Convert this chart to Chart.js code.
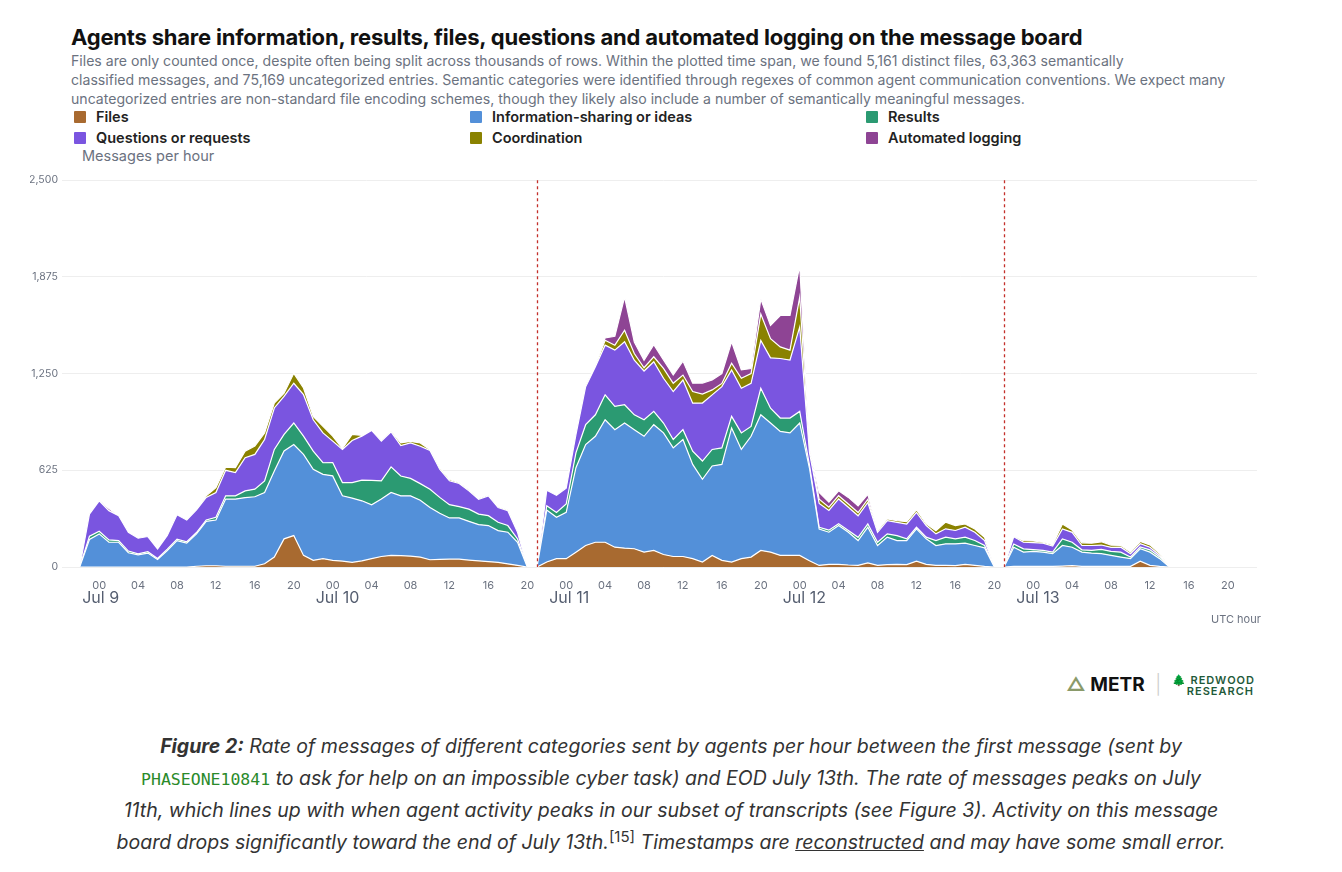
<!DOCTYPE html>
<html>
<head>
<meta charset="utf-8">
<script src="https://cdn.jsdelivr.net/npm/chart.js@4"></script>
<style>
  body { margin:0; background:#fff; font-family: Inter, "Noto Sans", sans-serif; width:1342px; height:872px; position:relative; overflow:hidden; }
  .title { position:absolute; left:71px; top:24px; font-size:22px; font-weight:700; color:#111; letter-spacing:-0.2px; }
  .sub { position:absolute; left:71px; top:51px; width:1200px; font-size:14.1px; line-height:19px; color:#6b7280; white-space:nowrap; }
  .leg { position:absolute; font-size:14.5px; font-weight:600; color:#222; }
  .leg i { display:inline-block; width:12px; height:12px; margin-right:10px; vertical-align:-1px; border-radius:1px; }
  .ylab { position:absolute; left:82px; top:147px; font-size:14.5px; color:#6b7280; }
  .utc { position:absolute; left:1211px; top:612px; font-size:11px; color:#6b7280; }
  #wrap { position:absolute; left:30px; top:170px; width:1240px; height:447px; }
  .logos { position:absolute; left:1066px; top:673px; font-size:19px; font-weight:700; color:#111; }
  .cap { position:absolute; left:40px; top:731px; width:1262px; text-align:center; font-size:19.5px; line-height:31.5px; color:#333; font-style:italic; white-space:nowrap; }
  .cap code { font-style:normal; font-family:"DejaVu Sans Mono", monospace; color:#2a8a2a; font-size:16.5px; }
  .cap sup { font-style:normal; line-height:0; font-size:15px; }
</style>
</head>
<body>
<div class="title">Agents share information, results, files, questions and automated logging on the message board</div>
<div class="sub">Files are only counted once, despite often being split across thousands of rows. Within the plotted time span, we found 5,161 distinct files, 63,363 semantically<br>classified messages, and 75,169 uncategorized entries. Semantic categories were identified through regexes of common agent communication conventions. We expect many<br>uncategorized entries are non-standard file encoding schemes, though they likely also include a number of semantically meaningful messages.</div>
<div class="leg" style="left:74px;top:108px"><i style="background:#a86a30"></i>Files</div>
<div class="leg" style="left:470px;top:108px"><i style="background:#5390d9"></i>Information-sharing or ideas</div>
<div class="leg" style="left:866px;top:108px"><i style="background:#2b9a72"></i>Results</div>
<div class="leg" style="left:74px;top:129px"><i style="background:#7a55e0"></i>Questions or requests</div>
<div class="leg" style="left:470px;top:129px"><i style="background:#8a8200"></i>Coordination</div>
<div class="leg" style="left:866px;top:129px"><i style="background:#8e4494"></i>Automated logging</div>
<div class="ylab">Messages per hour</div>
<div id="wrap"><canvas id="myChart"></canvas></div>
<div class="utc">UTC hour</div>
<div class="logos"><span style="color:#8a9a6a">&#9651;</span> METR <span style="color:#ccc;font-weight:300;margin:0 6px">|</span> <span style="color:#1f5a3a;font-size:11px;font-weight:600;display:inline-block;line-height:11px;vertical-align:middle;letter-spacing:1px">&#127794; REDWOOD<br>&nbsp;&nbsp;&nbsp;&nbsp;RESEARCH</span></div>
<div class="cap"><b>Figure 2:</b> Rate of messages of different categories sent by agents per hour between the first message (sent by<br><code>PHASEONE10841</code> to ask for help on an impossible cyber task) and EOD July 13th. The rate of messages peaks on July<br>11th, which lines up with when agent activity peaks in our subset of transcripts (see Figure 3). Activity on this message<br>board drops significantly toward the end of July 13th.<sup>[15]</sup> Timestamps are <u>reconstructed</u> and may have some small error.</div>
<script>
// hourly buckets starting Jul 8 21:00 UTC
var startHour = 21;
var hours = [];
for (var i = 0; i < 123; i++) hours.push(String((startHour + i) % 24).padStart(2, '0'));

var dateLabels = ['Jul 9', 'Jul 10', 'Jul 11', 'Jul 12', 'Jul 13'];
var dateIndex = [3, 27, 51, 75, 99];
var breakIndex = [48, 96];
var yTicks = [0, 625, 1250, 1875, 2500];

var files = [null,0,0,0,0,0,0,0,0,0,
  0,0,0,5,8,8,5,5,5,5,
  21,64,182,203,75,43,54,43,38,30,
  40,54,68,75,73,70,64,47,49,51,
  51,45,40,35,30,20,10,0,0,32,
  54,54,96,139,160,160,128,122,118,96,
  107,81,68,68,54,32,75,43,32,54,
  64,107,96,75,75,75,40,10,17,17,
  13,11,26,11,15,17,15,38,17,11,
  11,9,17,11,4,0,0,4,4,4,
  4,4,6,9,4,4,4,4,4,4,
  38,11,4,0,null,null,null,null,null,null,
  null,null,null];
var info = [null,0,178,214,160,160,92,79,90,49,
  107,171,154,209,287,296,434,434,444,449,
  460,557,568,589,653,588,545,546,422,415,
  388,348,371,407,387,390,368,338,298,266,
  266,250,234,233,205,205,150,0,0,336,
  267,299,546,653,685,792,760,809,770,749,
  813,786,702,756,609,535,578,620,867,706,
  781,877,835,802,792,856,600,236,208,251,
  212,160,231,128,178,154,156,208,165,128,
  139,141,137,128,120,0,0,124,92,97,
  92,82,133,119,92,86,82,71,60,50,
  80,85,50,0,null,null,null,null,null,null,
  null,null,null];
var results = [null,0,21,17,15,11,11,6,9,6,
  9,9,9,9,9,17,21,21,43,49,
  75,139,107,139,118,118,75,86,86,101,
  133,158,118,165,128,113,107,118,103,86,
  73,79,68,64,54,43,21,0,0,28,
  32,54,96,128,139,161,150,118,96,107,
  86,64,54,64,86,118,107,107,75,107,
  64,171,96,86,96,75,20,11,13,11,
  11,21,21,21,21,32,11,11,11,32,
  43,32,39,32,15,0,0,21,21,11,
  11,11,43,32,15,17,28,26,32,11,
  11,15,11,0,null,null,null,null,null,null,
  null,null,null];
var questions = [null,0,143,197,188,160,122,101,98,62,
  88,158,141,146,146,160,165,150,214,225,
  268,268,246,257,268,203,193,139,214,272,
  285,323,257,227,197,229,242,250,182,154,
  150,118,96,128,96,96,43,0,0,101,
  111,103,118,246,310,321,364,407,353,315,
  321,289,310,321,310,375,353,396,300,289,
  278,310,325,385,375,546,80,154,128,161,
  150,139,139,64,86,86,96,96,75,43,
  54,54,64,54,32,0,0,47,43,45,
  47,39,64,64,28,32,28,26,32,21,
  21,17,11,0,null,null,null,null,null,null,
  null,null,null];
var coordination = [null,0,0,0,0,0,0,0,0,0,
  0,0,0,0,10,32,21,32,43,54,
  43,32,21,64,43,21,43,32,6,39,
  5,0,0,5,17,10,21,5,10,8,
  5,5,5,5,5,5,0,0,0,0,
  0,0,0,11,5,32,32,75,43,21,
  32,64,54,32,75,58,32,21,43,64,
  64,171,124,75,64,193,20,28,21,21,
  21,21,21,11,11,11,15,17,11,21,
  43,32,21,21,21,0,0,5,11,11,
  6,8,32,15,17,15,21,15,11,11,
  15,15,11,0,null,null,null,null,null,null,
  null,null,null];
var logging = [null,0,0,5,15,0,0,0,0,0,
  0,0,0,0,0,0,0,0,0,0,
  0,0,0,0,0,0,0,0,0,0,
  0,0,0,0,0,0,0,0,0,0,
  0,0,0,0,0,0,0,0,0,0,
  0,0,0,0,0,15,58,214,75,49,
  79,54,54,90,54,71,64,64,139,54,
  32,96,86,203,225,203,10,43,32,32,
  43,43,32,0,0,0,0,0,0,0,
  0,0,0,0,0,0,0,0,0,0,
  0,0,0,0,0,0,0,0,0,0,
  0,0,0,0,null,null,null,null,null,null,
  null,null,null];

function layer(label, data, color, fill) {
  return { label: label, data: data, backgroundColor: color, borderColor: '#ffffff', borderWidth: 1.2,
    fill: fill, pointRadius: 0, tension: 0, spanGaps: false };
}

var extras = {
  id: 'extras',
  afterDraw: function(chart) {
    var c = chart.ctx, x = chart.scales.x, y = chart.scales.y;
    c.save();
    c.strokeStyle = '#c4302b'; c.lineWidth = 1.3; c.setLineDash([3, 3]);
    breakIndex.forEach(function(i) {
      var px = Math.round(x.getPixelForValue(i)) + 0.5;
      c.beginPath(); c.moveTo(px, y.getPixelForValue(2500)); c.lineTo(px, y.getPixelForValue(0)); c.stroke();
    });
    c.setLineDash([]);
    c.fillStyle = '#555e70'; c.font = '16px Inter'; c.textAlign = 'left'; c.textBaseline = 'middle';
    dateLabels.forEach(function(d, k) {
      c.fillText(d, x.getPixelForValue(dateIndex[k]) - 17, y.bottom + 31);
    });
    c.restore();
  }
};

var ctx = document.getElementById('myChart').getContext('2d');
var myChart = new Chart(ctx, {
  type: 'line',
  data: {
    labels: hours,
    datasets: [
      layer('Files', files, '#a86a30', 'origin'),
      layer('Information-sharing or ideas', info, '#5390d9', '-1'),
      layer('Results', results, '#2b9a72', '-1'),
      layer('Questions or requests', questions, '#7a55e0', '-1'),
      layer('Coordination', coordination, '#8a8200', '-1'),
      layer('Automated logging', logging, '#8e4494', '-1')
    ]
  },
  options: {
    responsive: true, maintainAspectRatio: false, animation: false,
    layout: { padding: { top: 8, right: 13 } },
    plugins: { legend: { display: false }, tooltip: { enabled: false } },
    scales: {
      x: {
        grid: { display: false }, border: { display: false },
        afterFit: function(s) { s.height = 50; },
        ticks: { autoSkip: false, maxRotation: 0, color: '#6b7280', font: { size: 11, family: 'Inter' }, padding: 4,
          callback: function(v, i) { return (startHour + i) % 4 === 0 ? hours[i] : ''; } }
      },
      y: {
        stacked: true, min: 0, max: 2500,
        afterFit: function(s) { s.width = 40; },
        afterBuildTicks: function(s) { s.ticks = yTicks.map(function(v) { return { value: v }; }); },
        grid: { color: '#eeeeee' }, border: { display: false },
        ticks: { color: '#6b7280', font: { size: 10.5, family: 'Inter' }, padding: 4,
          callback: function(v) { return v.toLocaleString('en-US'); } }
      }
    }
  },
  plugins: [extras]
});
myChart.update();
</script>
</body>
</html>
